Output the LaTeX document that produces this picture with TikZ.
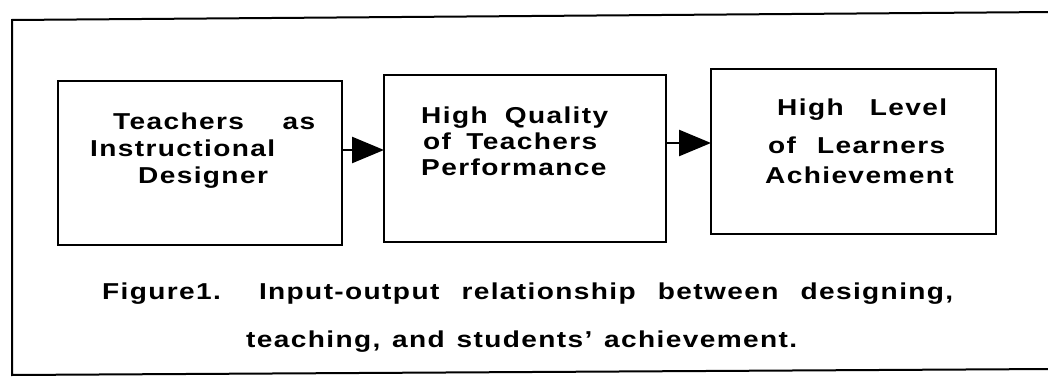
\documentclass[tikz,border=0pt]{standalone}
\usepackage{fontspec}
\setmainfont{Liberation Sans Bold}[FakeStretch=1.22, LetterSpace=6]
\usetikzlibrary{arrows.meta}
\begin{document}
\begin{tikzpicture}[x=1pt,y=-1pt,
  frame/.style={line width=2pt},
  stage/.style={draw, line width=2pt, inner sep=0pt},
  txt/.style={anchor=base west, inner sep=0pt, font=\fontsize{23}{27}\selectfont},
  captext/.style={anchor=base west, inner sep=0pt, font=\fontsize{23}{27}\selectfont},
  flow/.style={line width=2.5pt, -{Triangle[length=32pt,width=26pt]}, shorten >=-1pt}]
  \useasboundingbox (0,0) rectangle (1048,379);
  % outer frame (open on the right)
  \draw[frame] (1052,12) -- (12,20) -- (12,375) -- (1052,369);
  % the three stages
  \node[stage, minimum width=284pt, minimum height=164pt, anchor=north west] (b1) at (57,80) {};
  \node[stage, minimum width=282pt, minimum height=167pt, anchor=north west] (b2) at (383,74) {};
  \node[stage, minimum width=285pt, minimum height=165pt, anchor=north west] (b3) at (710,68) {};
  % stage texts
  \node[txt] (t11) at (113,130) {\makebox[202pt][s]{Teachers as}};
  \node[txt] (t12) at (90,157) {Instructional};
  \node[txt] (t13) at (138,184) {Designer};
  \node[txt] (t21) at (421,124) {\makebox[187pt][s]{High Quality}};
  \node[txt] (t22) at (423,150) {\makebox[174pt][s]{of Teachers}};
  \node[txt] (t23) at (421,176) {Performance};
  \node[txt] (t31) at (777,116) {\makebox[170pt][s]{High Level}};
  \node[txt] (t32) at (768,154) {\makebox[177pt][s]{of Learners}};
  \node[txt] (t33) at (765,184) {Achievement};
  % connectors
  \coordinate (a1) at (0,150);
  \coordinate (a2) at (0,143);
  \draw[flow] (b1.east |- a1) -- (b2.west |- a1);
  \draw[flow] (b2.east |- a2) -- (b3.west |- a2);
  % caption
  \node[captext] (c1) at (102,299) {\makebox[851pt]{Figure1.\hspace{38pt}Input-output\hfill relationship\hfill between\hfill designing,}};
  \node[captext] (c2) at (246,347) {\makebox[551pt]{teaching,\hfill and\hfill students'\hfill achievement.}};
\end{tikzpicture}
\end{document}
